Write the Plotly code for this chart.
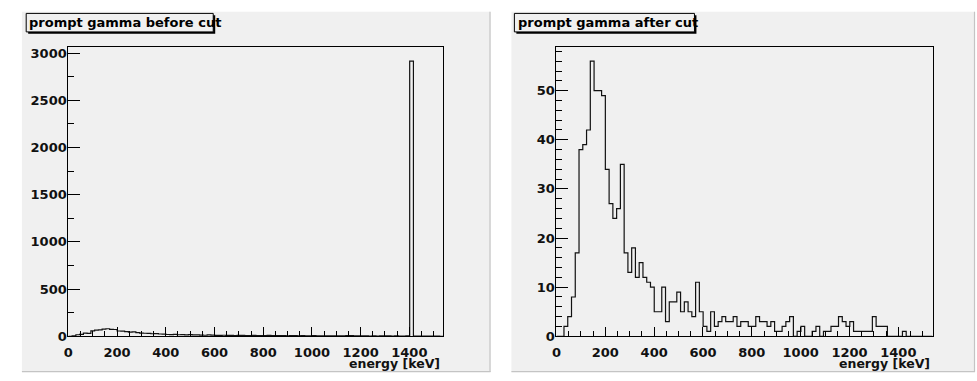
import numpy as np
import plotly.graph_objects as go

# ---------------- data ----------------
x_min, x_max, n_bins = 0.0, 1540.0, 100

before_cut = [
    0, 4, 16, 20, 34, 30, 58, 66, 68, 76,
    80, 74, 72, 56, 54, 50, 44, 46, 38, 34,
    32, 30, 27, 28, 24, 22, 19, 18, 21, 16,
    17, 15, 18, 14, 15, 12, 11, 14, 12, 10,
    9, 11, 9, 10, 8, 9, 10, 8, 7, 9,
    8, 7, 8, 9, 7, 6, 7, 6, 5, 6,
    7, 5, 6, 4, 5, 6, 4, 5, 4, 5,
    4, 5, 4, 5, 6, 7, 5, 4, 5, 4,
    3, 4, 3, 4, 5, 4, 3, 4, 3, 3,
    4, 2914, 3, 2, 2, 1, 2, 1, 1, 0,
]

after_cut = [
    0, 0, 2, 4, 8, 17, 38, 39, 42, 56,
    50, 50, 49, 34, 27, 24, 26, 35, 17, 13,
    18, 12, 15, 12, 11, 10, 5, 5, 10, 3,
    7, 7, 9, 5, 7, 5, 4, 11, 5, 2,
    1, 5, 2, 3, 4, 3, 3, 4, 2, 3,
    3, 2, 2, 4, 3, 3, 2, 3, 1, 1,
    2, 3, 4, 0, 1, 2, 0, 0, 1, 2,
    0, 1, 1, 2, 2, 4, 3, 2, 3, 1,
    1, 1, 1, 1, 4, 2, 2, 2, 0, 0,
    0, 0, 1, 0, 0, 0, 0, 0, 0, 0,
]

titles = ["prompt gamma before cut", "prompt gamma after cut"]
x_title = "energy [keV]"

# ---------------- helpers ----------------
W, H = 977, 381
PAD = "#f0f0f0"
FONT = "DejaVu Sans"


def px(x):
    return x / W


def py(y):
    return 1 - y / H


edges = np.linspace(x_min, x_max, n_bins + 1)


def step_xy(vals):
    v = list(vals)
    xs = [edges[0]] + list(edges[:-1]) + [edges[-1], edges[-1]]
    ys = [0] + v + [v[-1], 0]
    return xs, ys


fig = go.Figure()

for i, vals in enumerate([before_cut, after_cut]):
    xs, ys = step_xy(vals)
    sfx = "" if i == 0 else str(i + 1)
    fig.add_trace(go.Scatter(
        x=xs, y=ys, mode="lines", line=dict(color="#111111", width=1.2, shape="hv"),
        xaxis="x" + sfx, yaxis="y" + sfx, showlegend=False, hoverinfo="skip"))

tickfont = dict(family=FONT, size=13, color="#111111", weight="bold")

frames = [(63.7, 440.7), (554.3, 932.3)]
ytop, ybot = 46.7, 343.3
ymaxes = [max(before_cut) * 1.05, max(after_cut) * 1.05]
ydticks = [(500, 250), (10, 2)]

layout = dict(
    width=W, height=H, margin=dict(l=0, r=0, t=0, b=0),
    paper_bgcolor="white", plot_bgcolor=PAD, showlegend=False,
)

for i in range(2):
    sfx = "" if i == 0 else str(i + 1)
    x0, x1 = frames[i]
    layout["xaxis" + sfx] = dict(
        domain=[px(x0), px(x1)], range=[x_min, x_max], anchor="y" + sfx,
        showgrid=False, zeroline=False, showline=True, linecolor="black", linewidth=1,
        mirror=True, ticks="inside", ticklen=9, tickwidth=1, tickcolor="black",
        tick0=0, dtick=200, tickfont=tickfont, ticklabelstandoff=4,
        minor=dict(ticks="inside", ticklen=5, dtick=50, tick0=0, tickcolor="black", showgrid=False),
    )
    dt, mdt = ydticks[i]
    layout["yaxis" + sfx] = dict(
        domain=[py(ybot), py(ytop)], range=[0, ymaxes[i]], anchor="x" + sfx,
        showgrid=False, zeroline=False, showline=True, linecolor="black", linewidth=1,
        mirror=True, ticks="inside", ticklen=12, tickwidth=1, tickcolor="black",
        tick0=0, dtick=dt, tickfont=tickfont, ticklabelstandoff=-2,
        minor=dict(ticks="inside", ticklen=6, dtick=mdt, tick0=0, tickcolor="black", showgrid=False),
    )

fig.update_layout(**layout)

shapes = []
annotations = []
pads = [(17, 488), (509, 975)]
boxes = [(21.3, 209.3), (512, 693)]
for i in range(2):
    a, b = pads[i]
    shapes.append(dict(type="rect", xref="paper", yref="paper", x0=px(a), x1=px(b),
                       y0=py(380), y1=py(10), fillcolor=PAD, line=dict(width=0), layer="below"))
    shapes.append(dict(type="line", xref="paper", yref="paper", x0=px(a), x1=px(b),
                       y0=py(379.5), y1=py(379.5), line=dict(color="#c4c4c4", width=1.2)))
    shapes.append(dict(type="line", xref="paper", yref="paper", x0=px(b - 0.5), x1=px(b - 0.5),
                       y0=py(380), y1=py(10), line=dict(color="#c4c4c4", width=1.2)))
    bx0, bx1 = boxes[i]
    # shadow
    shapes.append(dict(type="rect", xref="paper", yref="paper", x0=px(bx0 + 2), x1=px(bx1 + 2),
                       y0=py(30.7 + 2), y1=py(11.7 + 2), fillcolor="black", line=dict(width=0)))
    shapes.append(dict(type="rect", xref="paper", yref="paper", x0=px(bx0), x1=px(bx1),
                       y0=py(30.7), y1=py(11.7), fillcolor=PAD, line=dict(color="black", width=1)))
    annotations.append(dict(text=titles[i], xref="paper", yref="paper", x=px(bx0 + 1.3), y=py(21),
                            xanchor="left", yanchor="middle", showarrow=False,
                            font=dict(family=FONT, size=13, color="black", weight="bold")))
    annotations.append(dict(text=x_title, xref="paper", yref="paper", x=px(frames[i][1] - 1), y=py(371.5),
                            xanchor="right", yanchor="middle", showarrow=False,
                            font=dict(family=FONT, size=12.5, color="#111111", weight="bold")))

fig.update_layout(shapes=shapes, annotations=annotations)
fig.write_html(
    "out.html",
    config={"displayModeBar": False},
    post_script="document.body.style.margin='0';document.body.style.overflow='hidden';",
)
